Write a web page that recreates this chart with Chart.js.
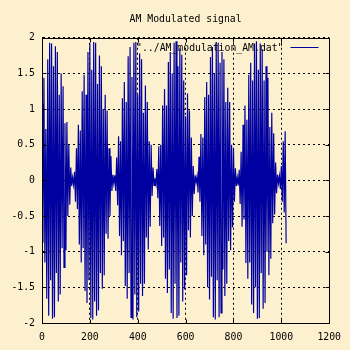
<!DOCTYPE html>
<html>
<head>
<meta charset="utf-8">
<script src="https://cdn.jsdelivr.net/npm/chart.js@4/dist/chart.umd.min.js"></script>
<style>
html, body { margin: 0; padding: 0; background: #fdf0cf; }
canvas { display: block; }
</style>
</head>
<body>
<canvas id="amChart" width="350" height="350"></canvas>
<script>
const chartTitle = "AM Modulated signal";
const seriesLabel = '"../AM_modulation_AM.dat"';

// one sample every 4 units along x
const sampleStep = 4;

// lobe by lobe
const signal = [
    // lobe 1
    1.07, -0.87, 1.44, -1.15, 0.72, -1.66, 1.70, -1.90, 1.93, -1.40, 1.92, -1.94, 1.60, -1.92, 1.88, -1.30,
    1.80, -1.70, 1.20, -1.60, 1.50, -0.95, 1.32, -1.22, 0.80, -0.98, 0.82, -0.50, 0.50, -0.34, 0.18, -0.08, 0.04,
    // lobe 2
    -0.06, 0.12, -0.30, 0.45, -0.40, 0.78, -0.90, 0.70, -1.15, 1.25, -0.95, 1.48, -1.55, 1.20, -1.72, 1.80,
    -1.40, 1.92, -1.93, 1.55, -1.95, 1.94, -1.70, 1.93, -1.90, 1.35, -1.82, 1.75, -1.30, 1.60, -1.52, 1.00,
    -1.33, 1.20, -0.75, 0.98, -0.82, 0.45, -0.50, 0.34, -0.15, 0.08, -0.04,
    // lobe 3
    0.07, -0.15, 0.32, -0.35, 0.62, -0.78, 0.55, -1.05, 1.15, -0.85, 1.38, -1.48, 1.10, -1.66, 1.74, -1.30,
    1.87, -1.92, 1.45, -1.95, 1.93, -1.60, 1.94, -1.92, 1.20, -1.84, 1.78, -1.45, 1.70, -1.62, 0.95, -1.45,
    1.33, -0.80, 1.10, -0.97, 0.55, -0.65, 0.50, -0.22, 0.18, -0.07, 0.03,
    // lobe 4
    -0.05, 0.16, -0.25, 0.48, -0.64, 0.50, -0.92, 1.05, -0.80, 1.28, -1.38, 1.05, -1.58, 1.66, -1.25, 1.80,
    -1.86, 1.50, -1.94, 1.93, -1.45, 1.95, -1.93, 1.60, -1.90, 1.85, -1.15, 1.76, -1.70, 1.40, -1.53, 0.90,
    -1.33, 1.22, -0.70, 0.98, -0.80, 0.60, -0.50, 0.20, -0.19, 0.07, -0.03,
    // lobe 5
    0.06, -0.17, 0.33, -0.30, 0.65, -0.78, 0.60, -1.05, 1.17, -0.90, 1.38, -1.50, 1.20, -1.67, 1.73, -1.35,
    1.87, -1.92, 1.50, -1.95, 1.94, -1.40, 1.93, -1.92, 1.65, -1.86, 1.80, -1.25, 1.70, -1.62, 1.10, -1.45,
    1.30, -0.85, 1.10, -0.98, 0.50, -0.66, 0.45, -0.30, 0.17, -0.08, 0.04,
    // lobe 6
    -0.07, 0.15, -0.33, 0.40, -0.65, 0.78, -0.55, 1.05, -1.16, 0.85, -1.38, 1.48, -1.15, 1.65, -1.74, 1.40,
    -1.86, 1.92, -1.50, 1.95, -1.94, 1.55, -1.93, 1.92, -1.30, 1.84, -1.80, 1.40, -1.72, 1.60, -1.00, 1.44,
    -1.33, 0.75, -1.10, 0.95, -0.60, 0.66, -0.48, 0.25, -0.18, 0.08, -0.04,
    // start of lobe 7
    0.06, -0.12, 0.20, -0.30, 0.55, -0.45, 0.69, -0.88
];

const xTicks = [0, 200, 400, 600, 800, 1000, 1200];
const yTicks = [-2, -1.5, -1, -0.5, 0, 0.5, 1, 1.5, 2];

const lineColor = "#0000a0";
const monoFont = { family: "'DejaVu Sans Mono', monospace", size: 9.8 };

const frameAndKey = {
    id: "frameAndKey",
    afterDatasetsDraw(chart) {
        const { ctx, chartArea: a, scales } = chart;
        const l = Math.round(a.left) + 0.5, r = Math.round(a.right) + 0.5;
        const t = Math.round(a.top) + 0.5, b = Math.round(a.bottom) + 0.5;
        ctx.save();
        ctx.strokeStyle = "#000";
        ctx.lineWidth = 1;
        ctx.setLineDash([]);
        ctx.beginPath();
        ctx.rect(l, t, r - l, b - t);
        xTicks.forEach(v => {
            const px = Math.round(scales.x.getPixelForValue(v)) + 0.5;
            ctx.moveTo(px, b); ctx.lineTo(px, b - 4);
            ctx.moveTo(px, t); ctx.lineTo(px, t + 4);
        });
        yTicks.forEach(v => {
            const py = Math.round(scales.y.getPixelForValue(v)) + 0.5;
            ctx.moveTo(l, py); ctx.lineTo(l + 4, py);
            ctx.moveTo(r, py); ctx.lineTo(r - 4, py);
        });
        ctx.stroke();

        // key, top right inside the frame
        const ky = t + 9;
        ctx.font = monoFont.size + "px " + monoFont.family;
        ctx.fillStyle = "#000";
        ctx.textAlign = "right";
        ctx.textBaseline = "middle";
        ctx.fillText(seriesLabel, r - 46, ky + 1);
        ctx.strokeStyle = lineColor;
        ctx.beginPath();
        ctx.moveTo(r - 39, ky);
        ctx.lineTo(r - 11, ky);
        ctx.stroke();
        ctx.restore();
    }
};

new Chart(document.getElementById("amChart"), {
    type: "line",
    data: {
        datasets: [{
            label: seriesLabel,
            data: signal.map((v, i) => ({ x: i * sampleStep, y: v })),
            borderColor: lineColor,
            borderWidth: 1.2,
            pointRadius: 0,
            tension: 0,
            fill: false
        }]
    },
    options: {
        responsive: false,
        animation: false,
        devicePixelRatio: 1,
        layout: { padding: { left: 0, right: 19, top: 0, bottom: 0 } },
        plugins: {
            legend: { display: false },
            tooltip: { enabled: false },
            title: {
                display: true,
                text: chartTitle,
                fullSize: false,
                color: "#000",
                font: { ...monoFont, weight: "normal" },
                padding: { top: 14, bottom: 12 }
            }
        },
        scales: {
            x: {
                type: "linear",
                min: 0,
                max: 1200,
                afterFit: s => { s.height = 27; },
                ticks: {
                    stepSize: 200, color: "#000", font: monoFont, padding: 9, maxRotation: 0,
                    callback: v => String(v)
                },
                grid: { color: "#000", lineWidth: 1, drawTicks: false },
                border: { display: true, color: "#000", dash: [2, 3] }
            },
            y: {
                min: -2,
                max: 2,
                afterFit: s => { s.width = 42; },
                ticks: {
                    stepSize: 0.5, color: "#000", font: monoFont, padding: 7,
                    callback: v => String(v)
                },
                grid: { color: "#000", lineWidth: 1, drawTicks: false },
                border: { display: true, color: "#000", dash: [2, 3] }
            }
        }
    },
    plugins: [frameAndKey]
});
</script>
</body>
</html>
